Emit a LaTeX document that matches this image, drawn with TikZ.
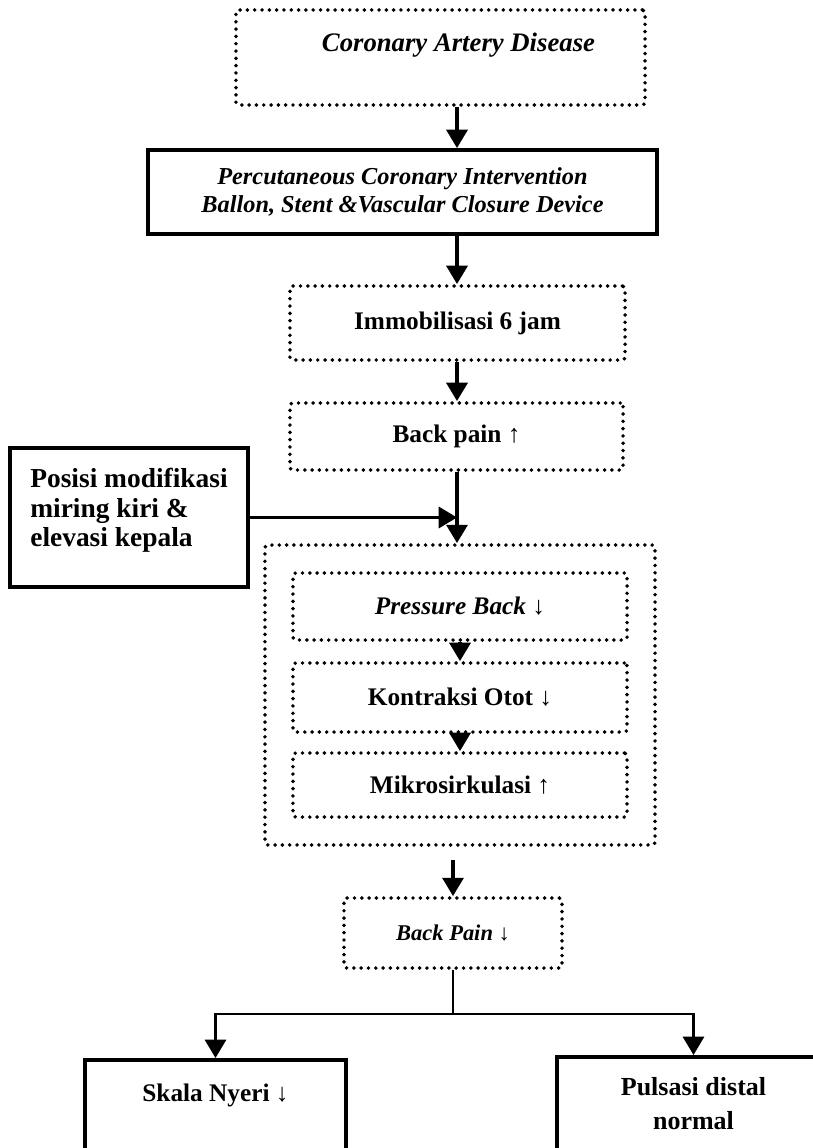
\documentclass[tikz,border=0pt]{standalone}
\usepackage{fontspec}
\setmainfont{Liberation Serif}
\usetikzlibrary{arrows.meta,fit}

\tikzset{
  dotbox/.style={draw,line width=2.8pt,line cap=round,dash pattern=on 0pt off 5.2pt,
    rectangle,rounded corners=2pt,align=center},
  solidbox/.style={draw,line width=2.8pt,rectangle,align=center},
  arr/.style={line width=2.2pt,-{Triangle[width=15pt,length=13pt]}},
  lbl/.style={font=\fontsize{18}{24}\selectfont\bfseries},
}

\begin{document}
\begin{tikzpicture}[x=0.025cm,y=-0.025cm]

\useasboundingbox (0,0) rectangle (812,1148);

\coordinate (axis) at (457,0);

% upper chain
\node[dotbox,anchor=north,inner sep=0pt,minimum width=10.225cm,
  text height=1.05cm,text depth=1.325cm,font=\fontsize{19}{24}\selectfont\bfseries\itshape] (cad) at (440.5,8)
  {\hspace*{0.9cm}Coronary Artery Disease};
\node[solidbox,minimum width=12.725cm,minimum height=2.1cm,
  font=\fontsize{17.3}{20}\selectfont\bfseries\itshape] (pci) at (402.5,192)
  {Percutaneous Coronary Intervention\\Ballon, Stent \&Vascular Closure Device};
\node[dotbox,lbl,minimum width=8.375cm,minimum height=1.85cm] (immo) at (457.5,323) {Immobilisasi 6 jam};
\node[dotbox,lbl,minimum width=8.325cm,minimum height=1.675cm] (bpup) at (456.5,436.5) {Back pain ↑};

% intervensi
\node[solidbox,minimum width=5.95cm,minimum height=3.475cm,align=left,text depth=14pt,
  font=\fontsize{19.5}{21}\selectfont\bfseries] (posisi) at (129,517.5)
  {Posisi modifikasi\\miring kiri \&\\elevasi kepala};

% mekanisme
\node[dotbox,lbl,minimum width=8.35cm,minimum height=1.675cm] (press) at (460,606.5) {\itshape Pressure Back ↓};
\node[dotbox,lbl,minimum width=8.35cm,minimum height=1.725cm] (otot) at (460,697.5) {Kontraksi Otot ↓};
\node[dotbox,lbl,minimum width=8.35cm,minimum height=1.6cm] (mikro) at (460,785) {Mikrosirkulasi ↑};
\node[dotbox,inner sep=0.65cm,fit=(press)(mikro)] (grup) {};

% hasil
\node[dotbox,minimum width=5.45cm,minimum height=1.75cm,
  font=\fontsize{16}{20}\selectfont\bfseries\itshape] (bpdown) at (453,933) {Back Pain ↓};
\node[solidbox,anchor=north,inner sep=0pt,minimum width=6.525cm,
  text height=1.05cm,text depth=1.5cm,font=\fontsize{18}{22}\selectfont\bfseries] (skala) at (215.5,1058) {Skala Nyeri ↓};
\node[solidbox,anchor=north,minimum width=6.825cm,minimum height=2.325cm,
  font=\fontsize{18.5}{24}\selectfont\bfseries] (pulsasi) at (693.5,1055) {Pulsasi distal\\normal};

% connectors
\draw[arr] (cad.south -| axis) -- (pci.north -| axis);
\draw[arr] (pci.south -| axis) -- (immo.north -| axis);
\draw[arr] (immo.south -| axis) -- (bpup.north -| axis);
\draw[arr] (bpup.south -| axis) -- (grup.north -| axis);
\draw[arr] (posisi.east) -- (posisi.east -| axis);
\draw[arr] (press) -- (otot);
\draw[arr] (otot) -- (mikro);
\draw[arr,shorten <=0.33cm] (grup.south -| bpdown) -- (bpdown.north);
\draw[line width=1.8pt] (bpdown.south) -- ++(0,44) coordinate (split);
\draw[arr,line width=1.8pt] (split) -| (skala.north);
\draw[arr,line width=1.8pt] (split) -| (pulsasi.north);

\end{tikzpicture}
\end{document}
